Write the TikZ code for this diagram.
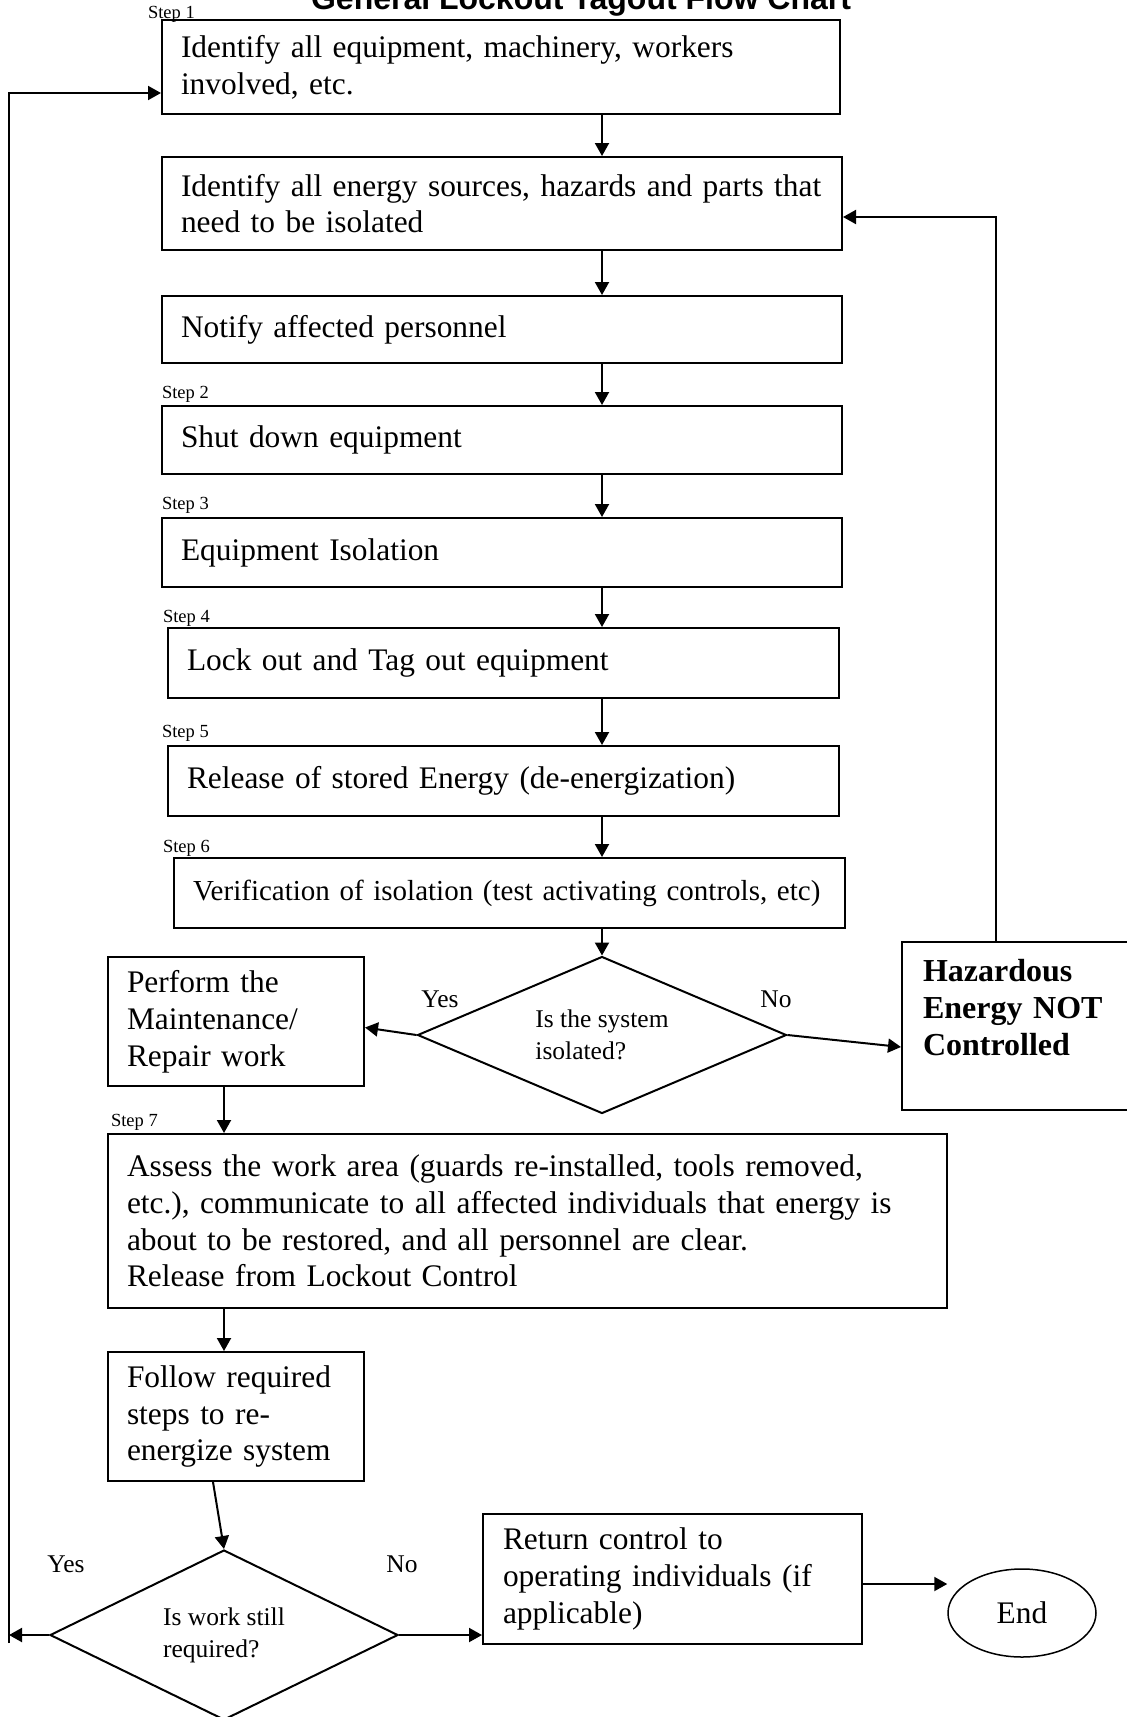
\documentclass[tikz,border=0pt]{standalone}
\usepackage{fontspec}
\setmainfont{Liberation Serif}
\newfontfamily\headfont{Liberation Sans}
\usetikzlibrary{arrows.meta,shapes.geometric}
\hyphenpenalty=10000
\exhyphenpenalty=10000

\begin{document}
\begin{tikzpicture}[x=1pt,y=-1pt,->,>={Triangle[length=13pt,width=14pt]},line width=2pt,
            font=\fontsize{31.4}{36.8}\selectfont]
            \tikzstyle{box}=[draw,rectangle,align=left,inner xsep=19pt,inner ysep=0pt,-]
            \tikzstyle{decide}=[draw,diamond,align=left,inner sep=0pt,-,font=\fontsize{25.5}{32}\selectfont]
            \tikzstyle{steplbl}=[anchor=base west,inner sep=0pt,font=\fontsize{18.5}{20}\selectfont]
            \tikzstyle{ans}=[anchor=base,inner sep=0pt,font=\fontsize{25.5}{30}\selectfont]

            \useasboundingbox (0,0) rectangle (1127,1717);

            \node[anchor=base,font=\headfont\bfseries\fontsize{32}{36}\selectfont] (title) at (581,9) {General Lockout Tagout Flow Chart};

            % main column
            \node[box,minimum width=678pt,minimum height=94pt,text width=640pt] (s1) at (501,67) {Identify all equipment, machinery, workers\\involved, etc.};
            \node[box,minimum width=680pt,minimum height=93pt,text width=642pt] (s2) at (502,203.5) {Identify all energy sources, hazards and parts that\\need to be isolated};
            \node[box,minimum width=680pt,minimum height=67pt,text width=642pt] (s3) at (502,329.5) {Notify affected personnel};
            \node[box,minimum width=680pt,minimum height=68pt,text width=642pt] (s4) at (502,440) {Shut down equipment};
            \node[box,minimum width=680pt,minimum height=69pt,text width=642pt] (s5) at (502,552.5) {Equipment Isolation};
            \node[box,minimum width=671pt,minimum height=70pt,text width=633pt] (s6) at (503.5,663) {Lock out and Tag out equipment};
            \node[box,minimum width=671pt,minimum height=70pt,text width=633pt] (s7) at (503.5,781) {Release of stored Energy (de-energization)};
            \node[box,minimum width=671pt,minimum height=70pt,text width=633pt,font=\fontsize{29}{34}\selectfont] (s8) at (509.5,893) {Verification of isolation (test activating controls, etc)};

            \node[steplbl] (st1) at (147,18) {Step 1};
            \node[steplbl] (st2) at (161,398) {Step 2};
            \node[steplbl] (st3) at (161,509) {Step 3};
            \node[steplbl] (st4) at (162,622) {Step 4};
            \node[steplbl] (st5) at (161,737) {Step 5};
            \node[steplbl] (st6) at (162,852) {Step 6};
            \node[steplbl] (st7) at (110,1126) {Step 7};

            % first decision
            \node[decide,shape aspect=2.35,minimum width=369pt,minimum height=157pt] (q1) at (602,1035) {Is the system\\isolated?};
            \node[box,minimum width=256pt,minimum height=129pt,text width=218pt] (perf) at (236,1021.5) {Perform the\\Maintenance/\\Repair work};
            \node[box,minimum width=233pt,minimum height=168pt,text width=191pt,inner xsep=21pt,text depth=111pt,
                  font=\bfseries\fontsize{32}{36.8}\selectfont] (haz) at (1018.5,1026) {Hazardous\\Energy NOT\\Controlled};
            \node[ans] (yes1) at (440,1007) {Yes};
            \node[ans] (no1) at (776,1007) {No};

            \node[box,minimum width=839pt,minimum height=174pt,text width=801pt] (asse) at (527.5,1221) {Assess the work area (guards re-installed, tools removed,\\etc.), communicate to all affected individuals that energy is\\about to be restored, and all personnel are clear.\\Release from Lockout Control};
            \node[box,minimum width=256pt,minimum height=129pt,text width=218pt] (fol) at (236,1416.5) {Follow required\\steps to re-\\energize system};

            % second decision
            \node[decide,shape aspect=2.05,minimum width=348pt,minimum height=170pt] (q2) at (224,1635) {Is work still\\required?};
            \node[box,minimum width=379pt,minimum height=130pt,text width=339pt,inner xsep=20pt] (ret) at (672.5,1579) {Return control to\\operating individuals (if\\applicable)};
            \node[draw,ellipse,-,line width=1.5pt,minimum width=148pt,minimum height=88pt,inner sep=0pt] (endn) at (1022,1613) {End};
            \node[ans] (yes2) at (66,1572) {Yes};
            \node[ans] (no2) at (402,1572) {No};

            \coordinate (hzTurn) at (996,217);
            \coordinate (lpTop) at (9,93);
            \coordinate (lpBot) at (9,1643);

            \path   (s1.south -| q1.north) edge (s2.north -| q1.north)
                    (s2.south -| q1.north) edge (s3.north -| q1.north)
                    (s3.south -| q1.north) edge (s4.north -| q1.north)
                    (s4.south -| q1.north) edge (s5.north -| q1.north)
                    (s5.south -| q1.north) edge (s6.north -| q1.north)
                    (s6.south -| q1.north) edge (s7.north -| q1.north)
                    (s7.south -| q1.north) edge (s8.north -| q1.north)
                    (s8.south -| q1.north) edge (q1.north)
                    (q1.west) edge ([yshift=-6pt]perf.east)
                    (q1.east) edge ([yshift=-21pt]haz.west)
                    (perf.south -| q2.north) edge (asse.north -| q2.north)
                    (asse.south -| q2.north) edge (fol.north -| q2.north)
                    ([xshift=-23pt]fol.south) edge (q2.north)
                    (q2.west) edge (q2.west -| lpTop)
                    (q2.east) edge (q2.east -| ret.west)
                    ([yshift=-5pt]ret.east) edge ([yshift=-5pt]ret.east -| endn.west);

            \draw (haz.north -| hzTurn) -- (hzTurn) -- (hzTurn -| s2.east);
            \draw (lpBot) -- (lpTop) -- (lpTop -| s1.west);
        \end{tikzpicture}
\end{document}
